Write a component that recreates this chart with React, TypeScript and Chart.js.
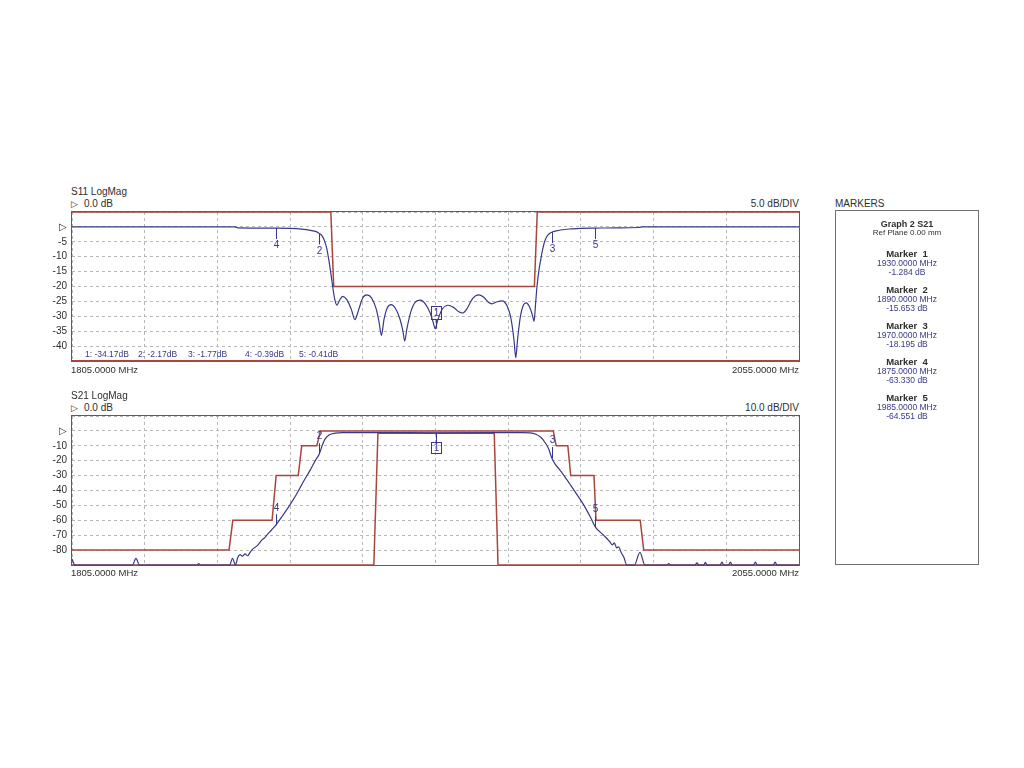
import React, { useEffect, useRef } from "react";
import { Chart, registerables } from "chart.js";

Chart.register(...registerables);

// ---------- data ----------
const X_TICKS = [1805, 1830, 1855, 1880, 1905, 1930, 1955, 1980, 2005, 2030, 2055];
const S11_Y_TICKS = [5, 0, -5, -10, -15, -20, -25, -30, -35, -40, -45];
const S21_Y_TICKS = [10, 0, -10, -20, -30, -40, -50, -60, -70, -80, -90];

const S11_FREQ = [
  1805, 1861, 1862, 1875, 1880, 1884, 1887, 1889, 1890, 1891, 1891.8, 1892.6, 1893.3, 1894, 1894.7,
  1895.4, 1896.1, 1897, 1898.1, 1899.5, 1901, 1902.3, 1903.5, 1905, 1906.4, 1908, 1909.6, 1910.6,
  1911.4, 1912.3, 1913.4, 1914.7, 1916.2, 1917.8, 1918.8, 1919.4, 1920.2, 1921.5, 1923, 1924.8,
  1926.6, 1928.2, 1929.2, 1929.9, 1930.7, 1932.2, 1934.4, 1936.5, 1938, 1939.3, 1940.8, 1942.8,
  1944.8, 1946.5, 1948.2, 1949.4, 1951, 1952.9, 1954.6, 1956, 1957, 1957.6, 1958.2, 1959.2, 1960.2,
  1961.2, 1962.3, 1963.3, 1963.9, 1964.4, 1964.9, 1965.5, 1966.1, 1966.8, 1967.5, 1968.3, 1969.1,
  1970, 1971.5, 1973, 1976, 1980, 1985, 1992, 2000, 2001, 2055,
];
const S11_DB = [
  0, 0, -0.3, -0.39, -0.5, -0.75, -1.15, -1.6, -2.17, -3, -4.6, -7.2, -11, -15.5, -20.5,
  -24.5, -26.3, -24.6, -23.3, -24.4, -27.5, -31.1, -28, -23.8, -22.8, -23.8, -27.5, -32,
  -36.4, -31, -27.2, -26.1, -27.3, -31, -35, -38.3, -34, -28.5, -25.3, -24.6,
  -26, -29, -32, -34.17, -31.5, -27.8, -26.3, -27.2, -28.5, -28.9, -27.5, -24,
  -22.8, -23.5, -25.3, -25.8, -25.2, -24.8, -26.5, -31, -38, -43.9, -38, -30, -26.3,
  -25.5, -26.8, -29.5, -31.7, -26, -20, -15, -11.5, -7.8, -5, -3.2, -2.3,
  -1.77, -1.35, -1.05, -0.7, -0.5, -0.41, -0.3, -0.2, 0, 0,
];
const S11_LIMIT_UP_FREQ = [1805, 1894, 1895, 1964, 1965, 2055];
const S11_LIMIT_UP_DB = [5, 5, -20, -20, 5, 5];
const S11_LIMIT_LOW_FREQ = [1805, 2055];
const S11_LIMIT_LOW_DB = [-45, -45];

const S21_FREQ = [
  1805, 1806, 1825.8, 1827, 1828.2, 1848, 1848.6, 1849.2, 1859.2, 1860.2, 1861.2, 1862, 1862.8,
  1863.6, 1864.5, 1865.4, 1866.4, 1867.3, 1868.4, 1869.4, 1870.4, 1871.2, 1872.2, 1873.6, 1875,
  1877.2, 1879.5, 1882.2, 1884.6, 1887, 1888.7, 1890, 1891, 1892, 1893.5, 1895.5, 1898, 1910, 1930,
  1950, 1960, 1962.5, 1964.5, 1966.2, 1967.6, 1968.9, 1970, 1971.2, 1972.6, 1974.2, 1976.4, 1978.7,
  1980.9, 1983.3, 1985, 1987.8, 1990, 1990.8, 1991.5, 1992.3, 1993, 1993.8, 1994.8, 1995.8, 1998.4,
  2000.3, 2002, 2009.6, 2010.2, 2010.8, 2019.3, 2019.9, 2020.5, 2022.2, 2022.8, 2023.4, 2027.9,
  2028.5, 2029.1, 2030.8, 2031.4, 2032, 2039.4, 2040, 2040.6, 2046.2, 2046.8, 2047.4, 2055,
];
const S21_DB = [
  -86, -90, -90, -85.5, -90, -90, -89, -90, -90, -85.5, -90, -85, -83,
  -84, -82.6, -83.8, -81, -79, -77.5, -75.5, -73, -71.8, -69.5, -66.5, -63.33,
  -57.5, -51, -42.5, -34, -26, -19.8, -15.65, -10, -5.5, -2.6, -1.5, -1.15, -1.1, -1.28,
  -1.2, -1.1, -1.3, -2.2, -4.3, -7.6, -12, -18.2, -22.5, -25.8, -30, -36.2, -42.9,
  -49.5, -58, -64.55, -70, -74.5, -76.5, -75.2, -78.5, -77.8, -81.5, -85, -90, -90,
  -81.5, -90, -90, -89, -90, -90, -88.5, -90, -90, -88.3, -90, -90,
  -88, -90, -90, -88, -90, -90, -88, -90, -90, -88, -90, -90,
];
const S21_LIMIT_UP_FREQ = [
  1805, 1859, 1860.3, 1873.8, 1875.2, 1882.8, 1884, 1889.2, 1890.4, 1970.5, 1971.5, 1975.5, 1976.5,
  1984.5, 1985.2, 2000.4, 2001.6, 2055,
];
const S21_LIMIT_UP_DB = [-80, -80, -60, -60, -30, -30, -10, -10, 0, 0, -10, -10, -30, -30, -60, -60, -80, -80];
const S21_LIMIT_LOW_FREQ = [1805, 1908.8, 1910.2, 1950.2, 1951.5, 2055];
const S21_LIMIT_LOW_DB = [-90, -90, -1.6, -1.6, -90, -90];

const MARKER_FREQ = [1930, 1890, 1970, 1875, 1985];
const S11_MARKER_DB = [-34.17, -2.17, -1.77, -0.39, -0.41];
const S21_MARKER_DB = [-1.284, -15.653, -18.195, -63.33, -64.551];

// ---------- styles ----------
const FONT = '"Liberation Sans", Arial, Helvetica, sans-serif';
const TRACE_COLOR = "#38388a";
const LIMIT_COLOR = "#a9463c";
const GRID_COLOR = "#b8b8b8";
const FRAME_COLOR = "#5c5c5c";
const TEXT_COLOR = "#2e2e2e";
const MARK_COLOR = "#38388a";

const toPoints = (xs: number[], ys: number[]) => xs.map((x, i) => ({ x, y: ys[i] }));

type Limit = { freq: number[]; db: number[]; width: number };
type PlotProps = {
  top: number;
  traceFreq: number[];
  traceDb: number[];
  limits: Limit[];
  yTicks: number[];
  markerDb: number[];
  numberedUp: boolean;
  boxUp: boolean;
  boxH: number;
};

function Plot(props: PlotProps) {
  const ref = useRef<HTMLCanvasElement>(null);
  useEffect(() => {
    const canvas = ref.current!;
    const yTicks = props.yTicks;
    const yMax = Math.max(...yTicks);
    const yMin = Math.min(...yTicks);
    const yAsc = [...yTicks].sort((a, b) => a - b);

    const framePlugin = {
      id: "vnaFrame",
      beforeDatasetsDraw(chart: any) {
        const { ctx, chartArea: a } = chart;
        ctx.save();
        ctx.strokeStyle = FRAME_COLOR;
        ctx.lineWidth = 1;
        ctx.strokeRect(
          Math.round(a.left) - 0.5,
          Math.round(a.top) - 0.5,
          Math.round(a.right - a.left) + 1,
          Math.round(a.bottom - a.top) + 1
        );
        ctx.restore();
      },
    };

    const markerPlugin = {
      id: "vnaMarkers",
      afterDatasetsDraw(chart: any) {
        const { ctx } = chart;
        const xs = chart.scales.x;
        const ys = chart.scales.y;
        ctx.save();
        ctx.strokeStyle = MARK_COLOR;
        ctx.fillStyle = MARK_COLOR;
        ctx.lineWidth = 1;
        ctx.font = `10px ${FONT}`;
        ctx.textAlign = "center";
        ctx.textBaseline = "middle";
        MARKER_FREQ.forEach((f, i) => {
          const x = Math.round(xs.getPixelForValue(f)) + 0.5;
          const y = ys.getPixelForValue(props.markerDb[i]);
          if (i === 0) {
            const dir = props.boxUp ? -1 : 1;
            const yEdge = y + dir * 9.5;
            ctx.beginPath();
            ctx.moveTo(x, y);
            ctx.lineTo(x, yEdge);
            ctx.stroke();
            const bw = 10;
            const bh = props.boxH;
            const top = Math.round(props.boxUp ? yEdge - bh : yEdge) + 0.5;
            ctx.strokeRect(x - bw / 2, top, bw, bh);
            ctx.fillText("1", x, top + bh / 2 + 0.5);
          } else {
            const dir = props.numberedUp ? -1 : 1;
            ctx.beginPath();
            ctx.moveTo(x, y);
            ctx.lineTo(x, y + dir * 11);
            ctx.stroke();
            ctx.fillText(String(i + 1), x, y + dir * 17.5);
          }
        });
        ctx.restore();
      },
    };

    const chart = new Chart(canvas, {
      type: "line",
      data: {
        datasets: [
          {
            data: toPoints(props.traceFreq, props.traceDb),
            borderColor: TRACE_COLOR,
            borderWidth: 1.2,
            pointRadius: 0,
            cubicInterpolationMode: "monotone",
            clip: 2,
          } as any,
          ...props.limits.map(
            (l) =>
              ({
                data: toPoints(l.freq, l.db),
                borderColor: LIMIT_COLOR,
                borderWidth: l.width,
                pointRadius: 0,
                tension: 0,
                clip: 2,
              } as any)
          ),
        ],
      },
      options: {
        responsive: false,
        animation: false,
        devicePixelRatio: 1,
        layout: { padding: { left: 0, right: 13, top: 12, bottom: 10 } },
        plugins: { legend: { display: false }, tooltip: { enabled: false } },
        elements: { point: { radius: 0 } },
        scales: {
          x: {
            type: "linear",
            min: 1805,
            max: 2055,
            afterBuildTicks: (s: any) => {
              s.ticks = X_TICKS.map((v) => ({ value: v }));
            },
            afterFit: (s: any) => {
              s.height = 0;
            },
            ticks: { display: false },
            grid: { color: GRID_COLOR, lineWidth: 1, drawTicks: false },
            border: { display: false, dash: [3, 3] },
          },
          y: {
            type: "linear",
            min: yMin,
            max: yMax,
            afterBuildTicks: (s: any) => {
              s.ticks = yAsc.map((v) => ({ value: v }));
            },
            afterFit: (s: any) => {
              s.width = 72;
            },
            ticks: {
              color: TEXT_COLOR,
              font: { family: FONT, size: 10 },
              padding: 5,
              autoSkip: false,
              callback: (v: any) => (v === 0 ? "▷" : v === yMax || v === yMin ? "" : String(v)),
            },
            grid: { color: GRID_COLOR, lineWidth: 1, drawTicks: false },
            border: { display: false, dash: [3, 3] },
          },
        },
      } as any,
      plugins: [framePlugin, markerPlugin],
    });
    return () => chart.destroy();
  }, []);
  return (
    <canvas
      ref={ref}
      width={812}
      height={172}
      style={{ position: "absolute", left: 0, top: props.top, width: 812, height: 172 }}
    />
  );
}

type LabelProps = {
  x: number;
  y: number;
  text: string;
  align?: "left" | "right" | "center";
  size?: number;
  bold?: boolean;
  color?: string;
};

function Label({ x, y, text, align = "left", size = 10, bold = false, color = TEXT_COLOR }: LabelProps) {
  const lh = Math.round(size * 1.2);
  const style: React.CSSProperties = {
    position: "absolute",
    top: y - lh / 2,
    height: lh,
    lineHeight: `${lh}px`,
    fontSize: size,
    fontFamily: FONT,
    fontWeight: bold ? "bold" : "normal",
    color,
    whiteSpace: "pre",
  };
  if (align === "left") style.left = x;
  else if (align === "right") style.right = 1024 - x;
  else {
    style.left = x - 100;
    style.width = 200;
    style.textAlign = "center";
  }
  return <div style={style}>{text}</div>;
}

const S11_ROW_X = [85, 138, 188, 245, 299];

export default function App() {
  return (
    <div
      style={{
        position: "absolute",
        left: 0,
        top: 0,
        width: 1024,
        height: 768,
        background: "#ffffff",
        overflow: "hidden",
      }}
    >
      {/* S11 plot */}
      <Label x={71} y={191.5} text="S11 LogMag" />
      <Label x={71} y={204} text="▷" size={9} />
      <Label x={84} y={204} text="0.0 dB" />
      <Label x={799} y={204} text="5.0 dB/DIV" align="right" />
      <Plot
        top={200}
        traceFreq={S11_FREQ}
        traceDb={S11_DB}
        limits={[
          { freq: S11_LIMIT_UP_FREQ, db: S11_LIMIT_UP_DB, width: 1.5 },
          { freq: S11_LIMIT_LOW_FREQ, db: S11_LIMIT_LOW_DB, width: 2 },
        ]}
        yTicks={S11_Y_TICKS}
        markerDb={S11_MARKER_DB}
        numberedUp={false}
        boxUp={true}
        boxH={13}
      />
      {S11_MARKER_DB.map((v, i) => (
        <Label
          key={i}
          x={S11_ROW_X[i]}
          y={354}
          text={`${i + 1}: ${v.toFixed(2)}dB`}
          size={8.5}
          color={MARK_COLOR}
        />
      ))}
      <Label x={71} y={369.5} text="1805.0000 MHz" size={9.5} />
      <Label x={799} y={369.5} text="2055.0000 MHz" align="right" size={9.5} />

      {/* S21 plot */}
      <Label x={71} y={395.5} text="S21 LogMag" />
      <Label x={71} y={408.3} text="▷" size={9} />
      <Label x={84} y={408.3} text="0.0 dB" />
      <Label x={799} y={407.5} text="10.0 dB/DIV" align="right" />
      <Plot
        top={404}
        traceFreq={S21_FREQ}
        traceDb={S21_DB}
        limits={[
          { freq: S21_LIMIT_UP_FREQ, db: S21_LIMIT_UP_DB, width: 1.5 },
          { freq: S21_LIMIT_LOW_FREQ, db: S21_LIMIT_LOW_DB, width: 1.5 },
        ]}
        yTicks={S21_Y_TICKS}
        markerDb={S21_MARKER_DB}
        numberedUp={true}
        boxUp={false}
        boxH={11}
      />
      <Label x={71} y={572.5} text="1805.0000 MHz" size={9.5} />
      <Label x={799} y={572.5} text="2055.0000 MHz" align="right" size={9.5} />

      {/* Markers panel */}
      <Label x={835} y={204} text="MARKERS" />
      <div
        style={{
          position: "absolute",
          left: 835,
          top: 210,
          width: 142,
          height: 353,
          border: "1px solid #707070",
        }}
      />
      <Label x={907} y={224} text="Graph 2 S21" align="center" size={9} bold />
      <Label x={907} y={233} text="Ref Plane 0.00 mm" align="center" size={8} color={TEXT_COLOR} />
      {MARKER_FREQ.map((f, i) => {
        const base = 253 + 36 * i;
        return (
          <React.Fragment key={i}>
            <Label x={907} y={base} text={`Marker  ${i + 1}`} align="center" size={9.5} bold />
            <Label x={907} y={base + 10} text={`${f.toFixed(4)} MHz`} align="center" size={8.5} color={MARK_COLOR} />
            <Label
              x={907}
              y={base + 19}
              text={`${S21_MARKER_DB[i].toFixed(3)} dB`}
              align="center"
              size={8.5}
              color={MARK_COLOR}
            />
          </React.Fragment>
        );
      })}
    </div>
  );
}
